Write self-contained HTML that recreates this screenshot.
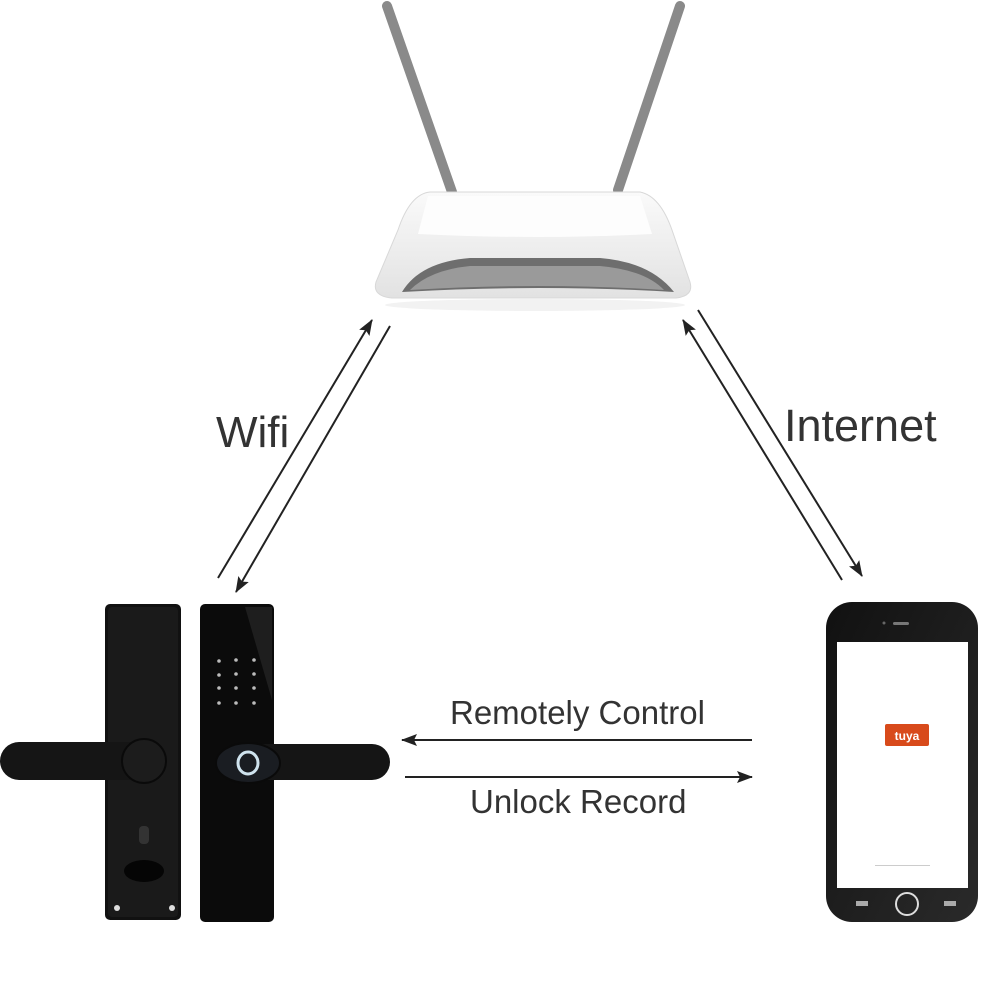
<!DOCTYPE html>
<html><head><meta charset="utf-8"><style>
html,body{margin:0;padding:0;background:#fff;}
svg{display:block;}
text{font-family:"Liberation Sans",sans-serif;fill:#333;}
</style></head><body>
<svg width="1000" height="1000" viewBox="0 0 1000 1000" xmlns="http://www.w3.org/2000/svg">
<defs>
<marker id="ah2" markerWidth="16" markerHeight="12" refX="15" refY="6" orient="auto" markerUnits="userSpaceOnUse" viewBox="0 0 16 12">
<path d="M0,0 L16,6 L0,12 L3,6 Z" fill="#222"/></marker>
<linearGradient id="rb" x1="0" y1="0" x2="0" y2="1"><stop offset="0" stop-color="#fafafa"/><stop offset="1" stop-color="#e2e2e2"/></linearGradient>
<linearGradient id="ph" x1="0" y1="0" x2="1" y2="1"><stop offset="0" stop-color="#111"/><stop offset="1" stop-color="#2a2a2a"/></linearGradient>
</defs>

<line x1="387" y1="6" x2="452" y2="192" stroke="#8a8a8a" stroke-width="10" stroke-linecap="round"/>
<line x1="680" y1="6" x2="618" y2="190" stroke="#8a8a8a" stroke-width="10" stroke-linecap="round"/>
<path d="M430,192 L640,192 Q660,196 672,230 L690,282 Q694,296 676,298 L392,298 Q372,296 376,282 L398,230 Q410,194 430,192 Z" fill="url(#rb)" stroke="#d8d8d8" stroke-width="1"/>
<path d="M428,196 L640,196 L652,234 Q540,240 418,234 Z" fill="#fdfdfd"/>
<path d="M402,292 Q420,262 470,258 L600,258 Q650,262 674,292 Q540,284 402,292 Z" fill="#6e6e6e"/>
<path d="M410,290 Q430,270 470,266 L600,266 Q645,270 664,290 Q540,282 410,290 Z" fill="#9a9a9a"/>
<ellipse cx="535" cy="305" rx="150" ry="6" fill="#f2f2f2"/>

<line x1="218" y1="578" x2="372" y2="320" stroke="#222" stroke-width="2" marker-end="url(#ah2)"/>
<line x1="390" y1="326" x2="236" y2="592" stroke="#222" stroke-width="2" marker-end="url(#ah2)"/>
<text x="216" y="447" font-size="44">Wifi</text>

<line x1="842" y1="580" x2="683" y2="320" stroke="#222" stroke-width="2" marker-end="url(#ah2)"/>
<line x1="698" y1="310" x2="862" y2="576" stroke="#222" stroke-width="2" marker-end="url(#ah2)"/>
<text x="784" y="441" font-size="45">Internet</text>

<line x1="752" y1="740" x2="402" y2="740" stroke="#222" stroke-width="2" marker-end="url(#ah2)"/>
<line x1="405" y1="777" x2="752" y2="777" stroke="#222" stroke-width="2" marker-end="url(#ah2)"/>
<text x="450" y="724" font-size="33">Remotely Control</text>
<text x="470" y="813" font-size="33">Unlock Record</text>

<rect x="105" y="604" width="76" height="316" rx="5" fill="#111"/>
<rect x="108" y="607" width="70" height="310" rx="4" fill="#1a1a1a"/>
<rect x="0" y="742" width="160" height="38" rx="19" fill="#151515"/>
<circle cx="144" cy="761" r="22" fill="#1c1c1c" stroke="#0a0a0a" stroke-width="2"/>
<rect x="139" y="826" width="10" height="18" rx="4" fill="#333"/>
<ellipse cx="144" cy="871" rx="20" ry="11" fill="#050505"/>
<circle cx="117" cy="908" r="3" fill="#ddd"/>
<circle cx="172" cy="908" r="3" fill="#ddd"/>

<rect x="200" y="604" width="74" height="318" rx="5" fill="#0b0b0b"/>
<path d="M245,607 L272,607 L272,700 Z" fill="#1e1e1e"/>
<g fill="#bbb">
<circle cx="219" cy="661" r="1.8"/><circle cx="236" cy="660" r="1.8"/><circle cx="254" cy="660" r="1.8"/>
<circle cx="219" cy="675" r="1.8"/><circle cx="236" cy="674" r="1.8"/><circle cx="254" cy="674" r="1.8"/>
<circle cx="219" cy="688" r="1.8"/><circle cx="236" cy="688" r="1.8"/><circle cx="254" cy="688" r="1.8"/>
<circle cx="219" cy="703" r="1.8"/><circle cx="236" cy="703" r="1.8"/><circle cx="254" cy="703" r="1.8"/>
</g>
<rect x="240" y="744" width="150" height="36" rx="18" fill="#151515"/>
<ellipse cx="248" cy="763" rx="32" ry="20" fill="#1a1d22" stroke="#0a0a0a" stroke-width="2"/>
<ellipse cx="248" cy="763" rx="10" ry="11" fill="none" stroke="#cfe3ee" stroke-width="3"/>

<rect x="826" y="602" width="152" height="320" rx="26" fill="url(#ph)"/>
<rect x="837" y="642" width="131" height="246" fill="#fff"/>
<rect x="885" y="724" width="44" height="22" rx="2" fill="#d84a1b"/>
<text x="907" y="740" font-size="12" text-anchor="middle" style="fill:#fff;font-weight:bold">tuya</text>
<rect x="875" y="865" width="55" height="1" fill="#ccc"/>
<rect x="893" y="622" width="16" height="3" rx="1.5" fill="#777"/>
<circle cx="884" cy="623" r="1.5" fill="#666"/>
<circle cx="907" cy="904" r="11" fill="none" stroke="#ddd" stroke-width="2"/>
<rect x="856" y="901" width="12" height="5" fill="#aaa"/>
<rect x="944" y="901" width="12" height="5" fill="#aaa"/>
</svg>
</body></html>
